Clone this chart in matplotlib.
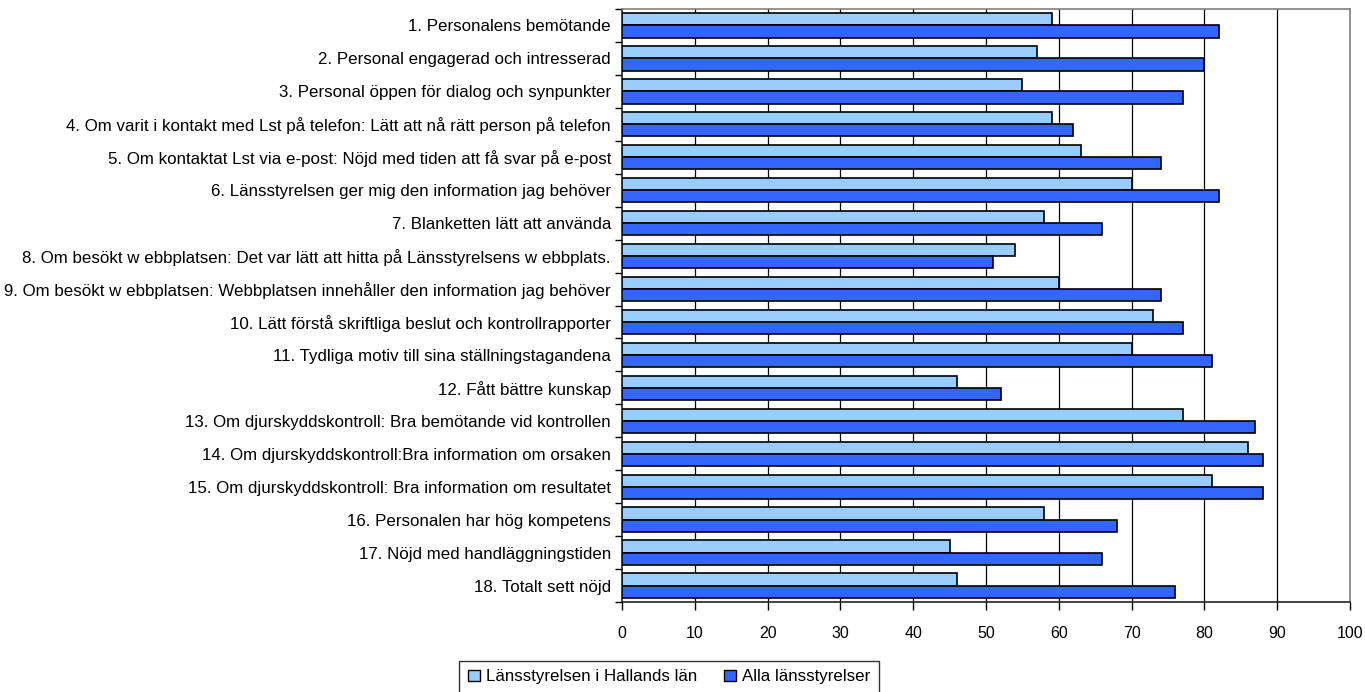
import matplotlib
matplotlib.use("Agg")
import matplotlib.pyplot as plt
from matplotlib import font_manager
from matplotlib.patches import Patch
import numpy as np

categories = [
    "1. Personalens bemötande",
    "2. Personal engagerad och intresserad",
    "3. Personal öppen för dialog och synpunkter",
    "4. Om varit i kontakt med Lst på telefon: Lätt att nå rätt person på telefon",
    "5. Om kontaktat Lst via e-post: Nöjd med tiden att få svar på e-post",
    "6. Länsstyrelsen ger mig den information jag behöver",
    "7. Blanketten lätt att använda",
    "8. Om besökt w ebbplatsen: Det var lätt att hitta på Länsstyrelsens w ebbplats.",
    "9. Om besökt w ebbplatsen: Webbplatsen innehåller den information jag behöver",
    "10. Lätt förstå skriftliga beslut och kontrollrapporter",
    "11. Tydliga motiv till sina ställningstagandena",
    "12. Fått bättre kunskap",
    "13. Om djurskyddskontroll: Bra bemötande vid kontrollen",
    "14. Om djurskyddskontroll:Bra information om orsaken",
    "15. Om djurskyddskontroll: Bra information om resultatet",
    "16. Personalen har hög kompetens",
    "17. Nöjd med handläggningstiden",
    "18. Totalt sett nöjd",
]
halland = [59, 57, 55, 59, 63, 70, 58, 54, 60, 73, 70, 46, 77, 86, 81, 58, 45, 46]
alla = [82, 80, 77, 62, 74, 82, 66, 51, 74, 77, 81, 52, 87, 88, 88, 68, 66, 76]
series_names = ["Länsstyrelsen i Hallands län", "Alla länsstyrelser"]
xticks = list(range(0, 101, 10))

available = {f.name for f in font_manager.fontManager.ttflist}
main_font = "Liberation Sans" if "Liberation Sans" in available else "DejaVu Sans"
narrow_font = "Liberation Sans Narrow" if "Liberation Sans Narrow" in available else main_font
plt.rcParams["font.family"] = [main_font, "DejaVu Sans"]

light = "#99CCFF"
dark = "#3366FF"

fig = plt.figure(figsize=(13.65, 6.92), dpi=100)
ax = fig.add_axes([622 / 1365, 1 - 602 / 692, (1350 - 622) / 1365, (602 - 9) / 692])

n = len(categories)
y = np.arange(n)
h = 0.37
ax.barh(y - h / 2, halland, height=h, color=light, edgecolor="black", linewidth=1.2, zorder=3)
ax.barh(y + h / 2, alla, height=h, color=dark, edgecolor="black", linewidth=1.2, zorder=3)

ax.set_xlim(0, 100)
ax.set_ylim(n - 0.5, -0.5)
ax.set_xticks(xticks)
ax.set_xticklabels([str(t) for t in xticks], fontfamily=narrow_font, fontsize=11.5)
ax.set_yticks(y)
ax.set_yticklabels(categories, fontsize=12.2)
ax.set_yticks(np.arange(-0.5, n, 1.0), minor=True)
ax.tick_params(axis="y", which="major", length=0, pad=8)
ax.tick_params(axis="y", which="minor", length=5, width=1, direction="out", color="black")
ax.tick_params(axis="x", which="major", length=6, width=1, direction="out", color="black", pad=11)

for xv in xticks[1:-1]:
    ax.axvline(xv, color="black", linewidth=0.9, zorder=1)

for side in ["top", "right"]:
    ax.spines[side].set_color("#808080")
    ax.spines[side].set_linewidth(1.2)
for side in ["left", "bottom"]:
    ax.spines[side].set_color("#222222")
    ax.spines[side].set_linewidth(1.2)

handles = [Patch(facecolor=light, edgecolor="black", linewidth=1.0),
           Patch(facecolor=dark, edgecolor="black", linewidth=1.0)]
leg = fig.legend(handles, series_names, loc="upper center",
                 bbox_to_anchor=(669 / 1365, 1 - 661 / 692), ncol=2,
                 fontsize=12.2, frameon=True, fancybox=False,
                 handlelength=0.7, handleheight=0.7, handletextpad=0.35,
                 columnspacing=1.6, borderpad=0.5, borderaxespad=0)
leg.get_frame().set_edgecolor("black")
leg.get_frame().set_linewidth(1.0)

fig.savefig("out.png", dpi=100)
